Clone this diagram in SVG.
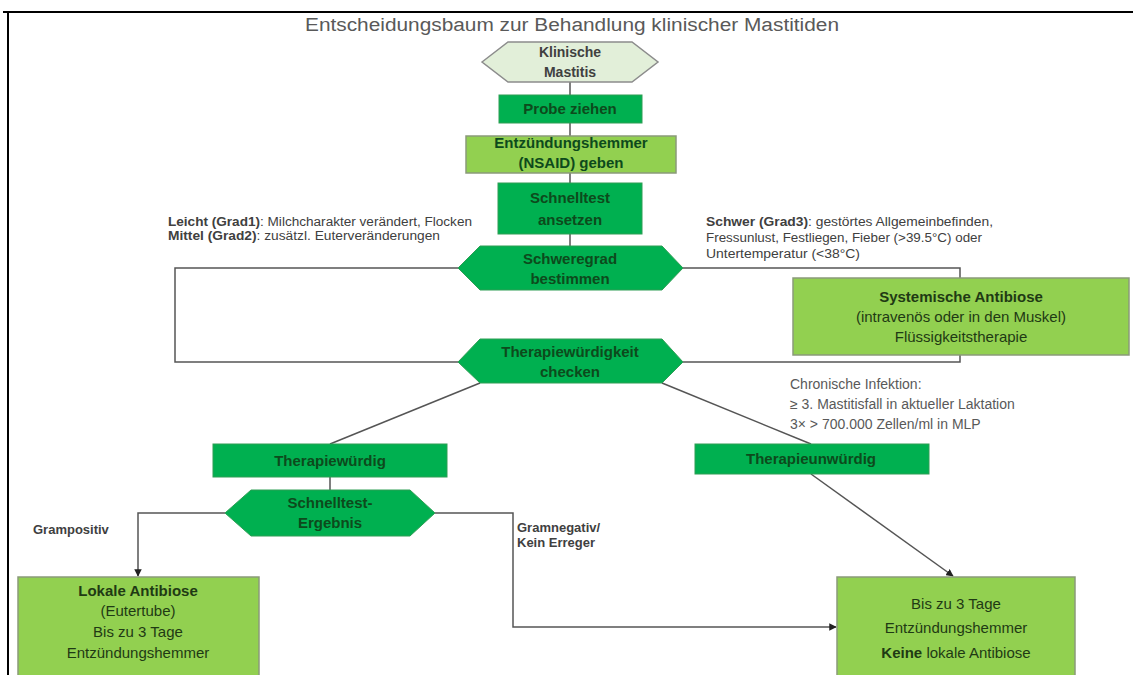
<svg xmlns="http://www.w3.org/2000/svg" width="1133" height="675" viewBox="0 0 1133 675">
<style>
.frame{stroke:#000;stroke-width:2;fill:none}
.title{font-family:"Liberation Sans",Arial,sans-serif;font-size:18px;fill:#595959;text-anchor:middle}
.dk{fill:#00b050;stroke:#2f9e55;stroke-width:1}
.lt{fill:#92d050;stroke:#8a9a7a;stroke-width:1.5}
.pale{fill:#e2efd9;stroke:#8c8c8c;stroke-width:1.5}
.nt{font-family:"Liberation Sans",Arial,sans-serif;font-size:15px;font-weight:bold;fill:#0d4a1c;text-anchor:middle}
.pt{font-family:"Liberation Sans",Arial,sans-serif;font-size:14px;font-weight:bold;fill:#404040;text-anchor:middle}
.bt{font-family:"Liberation Sans",Arial,sans-serif;font-size:15px;fill:#1f3a14;text-anchor:middle}
.ann{font-family:"Liberation Sans",Arial,sans-serif;font-size:12px;fill:#404040}
.chr{font-family:"Liberation Sans",Arial,sans-serif;font-size:14px;fill:#595959}
.lbl{font-family:"Liberation Sans",Arial,sans-serif;font-size:13px;font-weight:bold;fill:#404040}
.b{font-weight:bold}
.con{stroke:#555;stroke-width:1.5;fill:none}
</style>
<defs>
<marker id="arr" viewBox="0 0 10 10" refX="9" refY="5" markerWidth="5" markerHeight="5" orient="auto" markerUnits="strokeWidth">
<path d="M0,0 L10,5 L0,10 z" fill="#222"/>
</marker>
</defs>
<rect width="1133" height="675" fill="#fff"/>
<path class="frame" d="M3,12 H1133 M8,12 V675"/>
<text class="title" x="572" y="31" textLength="534" lengthAdjust="spacingAndGlyphs">Entscheidungsbaum zur Behandlung klinischer Mastitiden</text>

<g id="connectors">
<path class="con" d="M570,82 V95 M570,123 V136 M570,173 V183 M570,234 V246"/>
<path class="con" d="M458,268 H175 V362 H458"/>
<path class="con" d="M683,268 H960 V278 M960,355 V362 H683"/>
<path class="con" d="M480,383 L330,444"/>
<path class="con" d="M662,383 L811,444"/>
<path class="con" d="M811,474 L953,576" marker-end="url(#arr)"/>
<path class="con" d="M330,477 V490"/>
<path class="con" d="M225,513 H138 V576" marker-end="url(#arr)"/>
<path class="con" d="M435,513 H513 V627 H836" marker-end="url(#arr)"/>
</g>

<g id="klinische-mastitis">
<polygon class="pale" points="482,62 508,42 632,42 658,62 632,82 508,82"/>
<text class="pt" x="570" y="57">Klinische</text>
<text class="pt" x="570" y="77">Mastitis</text>
</g>
<g id="probe-ziehen">
<rect class="dk" x="499" y="95" width="143" height="28"/>
<text class="nt" x="570" y="114">Probe ziehen</text>
</g>
<g id="nsaid">
<rect class="lt" x="466" y="136" width="210" height="37"/>
<text class="nt" x="571" y="148">Entzündungshemmer</text>
<text class="nt" x="571" y="168">(NSAID) geben</text>
</g>
<g id="schnelltest-ansetzen">
<rect class="dk" x="498" y="183" width="144" height="51"/>
<text class="nt" x="570" y="203">Schnelltest</text>
<text class="nt" x="570" y="225">ansetzen</text>
</g>
<g id="schweregrad">
<polygon class="dk" points="458,268 480,246 662,246 683,268 662,290 480,290"/>
<text class="nt" x="570" y="264">Schweregrad</text>
<text class="nt" x="570" y="284">bestimmen</text>
</g>
<g id="note-leicht">
<text class="ann" x="168" y="226" textLength="304" lengthAdjust="spacingAndGlyphs"><tspan class="b">Leicht (Grad1)</tspan>: Milchcharakter verändert, Flocken</text>
<text class="ann" x="168" y="240" textLength="272" lengthAdjust="spacingAndGlyphs"><tspan class="b">Mittel (Grad2)</tspan>: zusätzl. Euterveränderungen</text>
</g>
<g id="note-schwer">
<text class="ann" x="706" y="226" textLength="287" lengthAdjust="spacingAndGlyphs"><tspan class="b">Schwer (Grad3)</tspan>: gestörtes Allgemeinbefinden,</text>
<text class="ann" x="706" y="242" textLength="276" lengthAdjust="spacingAndGlyphs">Fressunlust, Festliegen, Fieber (&gt;39.5°C) oder</text>
<text class="ann" x="706" y="258" textLength="154" lengthAdjust="spacingAndGlyphs">Untertemperatur (&lt;38°C)</text>
</g>
<g id="systemische-antibiose">
<rect class="lt" x="793" y="278" width="336" height="77"/>
<text class="bt b" x="961" y="302" fill="#1a4d14">Systemische Antibiose</text>
<text class="bt" x="961" y="322">(intravenös oder in den Muskel)</text>
<text class="bt" x="961" y="342">Flüssigkeitstherapie</text>
</g>
<g id="therapiewuerdigkeit">
<polygon class="dk" points="458,362 480,339 662,339 683,362 662,383 480,383"/>
<text class="nt" x="570" y="357">Therapiewürdigkeit</text>
<text class="nt" x="570" y="377">checken</text>
</g>
<g id="note-chronisch">
<text class="chr" x="790" y="389">Chronische Infektion:</text>
<text class="chr" x="790" y="409">≥ 3. Mastitisfall in aktueller Laktation</text>
<text class="chr" x="790" y="429">3× &gt; 700.000 Zellen/ml in MLP</text>
</g>
<g id="therapiewuerdig">
<rect class="dk" x="213" y="444" width="234" height="33"/>
<text class="nt" x="330" y="466">Therapiewürdig</text>
</g>
<g id="therapieunwuerdig">
<rect class="dk" x="695" y="444" width="234" height="30"/>
<text class="nt" x="811" y="464">Therapieunwürdig</text>
</g>
<g id="schnelltest-ergebnis">
<polygon class="dk" points="225,513 251,490 410,490 435,513 410,536 251,536"/>
<text class="nt" x="330" y="508">Schnelltest-</text>
<text class="nt" x="330" y="528">Ergebnis</text>
</g>
<text class="lbl" x="33" y="534">Grampositiv</text>
<text class="lbl" x="517" y="532">Gramnegativ/</text>
<text class="lbl" x="517" y="547">Kein Erreger</text>
<g id="lokale-antibiose">
<rect class="lt" x="18" y="577" width="241" height="110"/>
<text class="bt b" x="138" y="596">Lokale Antibiose</text>
<text class="bt" x="138" y="616">(Eutertube)</text>
<text class="bt" x="138" y="637">Bis zu 3 Tage</text>
<text class="bt" x="138" y="658">Entzündungshemmer</text>
</g>
<g id="keine-lokale-antibiose">
<rect class="lt" x="837" y="577" width="238" height="110"/>
<text class="bt" x="956" y="609">Bis zu 3 Tage</text>
<text class="bt" x="956" y="633">Entzündungshemmer</text>
<text class="bt" x="956" y="658"><tspan class="b">Keine</tspan> lokale Antibiose</text>
</g>
</svg>
